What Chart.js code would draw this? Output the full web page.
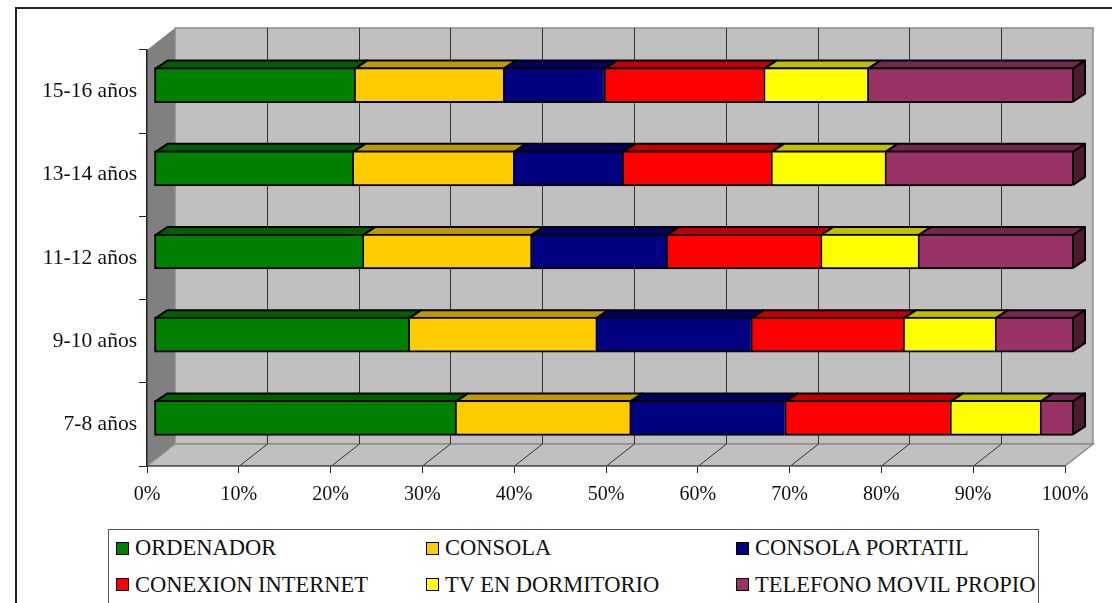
<!DOCTYPE html>
<html>
<head>
<meta charset="utf-8">
<script src="https://cdn.jsdelivr.net/npm/chart.js@4"></script>
<style>
  html, body { margin: 0; padding: 0; width: 1112px; height: 603px; overflow: hidden; background: #fff; }
  #frame { position: absolute; left: 15px; top: 7px; width: 1200px; height: 700px; border: 2px solid #222; }
  #chart { position: absolute; left: 0; top: 0; }
  #legend {
    position: absolute; left: 108px; top: 529px; width: 929px; height: 73px; background: #fff;
    border: 1px solid #555; display: grid; grid-template-columns: 310px 310px 309px;
    font: 22.5px "Liberation Serif", serif; color: #111;
  }
  .item { display: flex; align-items: center; padding-left: 7px; white-space: nowrap; }
  .swatch { width: 11px; height: 11px; border: 1px solid #000; margin-right: 6px; flex: none; }
</style>
</head>
<body>
<div id="frame"></div>
<canvas id="chart" width="1112" height="603"></canvas>
<div id="legend"></div>
<script>
const categories = ['15-16 años', '13-14 años', '11-12 años', '9-10 años', '7-8 años'];
const ordenador = [21.8, 21.6, 22.7, 27.7, 32.8];
const consola = [16.2, 17.5, 18.3, 20.4, 19.0];
const consolaPortatil = [11.0, 11.9, 14.8, 16.9, 16.9];
const conexionInternet = [17.4, 16.2, 16.8, 16.6, 18.0];
const tvDormitorio = [11.3, 12.4, 10.6, 10.0, 9.8];
const telefonoMovil = [22.3, 20.4, 16.8, 8.4, 3.5];

const seriesNames = ['ORDENADOR', 'CONSOLA', 'CONSOLA PORTATIL', 'CONEXION INTERNET', 'TV EN DORMITORIO', 'TELEFONO MOVIL PROPIO'];
const seriesValues = [ordenador, consola, consolaPortatil, conexionInternet, tvDormitorio, telefonoMovil];
const frontColors = ['#008000', '#FFCC00', '#000080', '#FF0000', '#FFFF00', '#993366'];
const topColors = ['#006000', '#BF9900', '#000060', '#C00000', '#BFBF00', '#732650'];
const sideColor = '#4D1A33';

// fake 3D: wall depth, how far the bars sit inside it, and the depth of a bar
const wallDx = 28, wallDy = -22;
const barDx = 7, barDy = -6.5;
const depthDx = 12, depthDy = -8;

const poly = (ctx, pts, fill, stroke, width) => {
  ctx.beginPath();
  pts.forEach((p, i) => (i ? ctx.lineTo(p[0], p[1]) : ctx.moveTo(p[0], p[1])));
  ctx.closePath();
  ctx.fillStyle = fill;
  ctx.fill();
  if (stroke) {
    ctx.strokeStyle = stroke;
    ctx.lineWidth = width;
    ctx.stroke();
  }
};

const walls3d = {
  id: 'walls3d',
  beforeDraw(chart) {
    const { ctx, chartArea: a, scales } = chart;
    const l = a.left, r = a.right, t = a.top, b = a.bottom;
    ctx.save();
    // side wall, back wall, floor
    poly(ctx, [[l, t], [l + wallDx, t + wallDy], [l + wallDx, b + wallDy], [l, b]], '#808080');
    poly(ctx, [[l + wallDx, t + wallDy], [r + wallDx, t + wallDy], [r + wallDx, b + wallDy], [l + wallDx, b + wallDy]], '#C0C0C0', '#8c8c8c', 1.5);
    poly(ctx, [[l, b], [l + wallDx, b + wallDy], [r + wallDx, b + wallDy], [r, b]], '#C0C0C0', '#8c8c8c', 1.5);
    // grid lines run across the floor and up the back wall
    ctx.strokeStyle = '#333';
    ctx.lineWidth = 1;
    scales.x.ticks.forEach(tick => {
      if (tick.value === 0 || tick.value === 100) return;
      const x = Math.round(scales.x.getPixelForValue(tick.value)) + 0.5;
      ctx.beginPath();
      ctx.moveTo(x, b);
      ctx.lineTo(x + wallDx, b + wallDy);
      ctx.lineTo(x + wallDx, t + wallDy);
      ctx.stroke();
    });
    ctx.restore();
  },
  beforeDatasetsDraw(chart) {
    const { ctx } = chart;
    ctx.save();
    ctx.translate(barDx, barDy);
    ctx.lineJoin = 'round';
    seriesValues.forEach((values, d) => {
      chart.getDatasetMeta(d).data.forEach(bar => {
        const top = bar.y - bar.height / 2 + 1;
        poly(ctx, [[bar.base + 1, top], [bar.base + 1 + depthDx, top + depthDy], [bar.x + 1 + depthDx, top + depthDy], [bar.x + 1, top]], topColors[d], '#000', 2);
      });
    });
  },
  afterDatasetsDraw(chart) {
    const { ctx } = chart;
    // right end of the stack, its left edge closes the last bar
    chart.getDatasetMeta(seriesValues.length - 1).data.forEach(bar => {
      const top = bar.y - bar.height / 2 + 1;
      const bottom = bar.y + bar.height / 2 - 1;
      const x = bar.x + 1;
      poly(ctx, [[x, top], [x + depthDx, top + depthDy], [x + depthDx, bottom + depthDy], [x, bottom]], sideColor, '#000', 2);
    });
    ctx.restore();
  },
};

const fontFamily = '"Liberation Serif", serif';

new Chart(document.getElementById('chart').getContext('2d'), {
  type: 'bar',
  data: {
    labels: categories,
    datasets: seriesNames.map((name, i) => ({
      label: name,
      data: seriesValues[i],
      backgroundColor: frontColors[i],
      borderColor: '#000',
      borderWidth: { top: 2, bottom: 2, left: 2, right: 0 },
      borderSkipped: false,
      barThickness: 35,
      clip: false,
    })),
  },
  options: {
    indexAxis: 'y',
    responsive: false,
    animation: false,
    layout: { padding: { top: 50, right: 47, left: 0, bottom: 0 } },
    scales: {
      x: {
        stacked: true,
        min: 0,
        max: 100,
        afterFit: scale => { scale.height = 137; },
        ticks: { stepSize: 10, maxRotation: 0, padding: 10, color: '#111', font: { family: fontFamily, size: 20 }, callback: v => v + '%' },
        grid: { drawOnChartArea: false, tickLength: 7, color: '#222' },
        border: { color: '#555', width: 1.5 },
      },
      y: {
        stacked: true,
        afterFit: scale => { scale.width = 147; },
        ticks: { padding: 2, color: '#111', font: { family: fontFamily, size: 21.5 } },
        grid: { drawOnChartArea: false, offset: true, tickLength: 8, color: '#222' },
        border: { color: '#222', width: 1.5 },
      },
    },
    plugins: { legend: { display: false }, tooltip: { enabled: false } },
  },
  plugins: [walls3d],
});

// legend lines up in three fixed columns, which the built-in one can't do
const legend = document.getElementById('legend');
seriesNames.forEach((name, i) => {
  const item = document.createElement('div');
  item.className = 'item';
  const swatch = document.createElement('span');
  swatch.className = 'swatch';
  swatch.style.background = frontColors[i];
  item.appendChild(swatch);
  item.appendChild(document.createTextNode(name));
  legend.appendChild(item);
});
</script>
</body>
</html>
